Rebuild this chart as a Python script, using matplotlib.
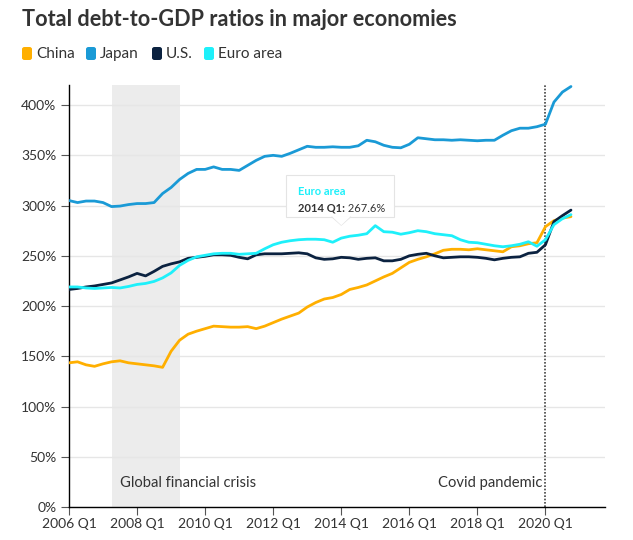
import numpy as np
import matplotlib
matplotlib.use("Agg")
import matplotlib.pyplot as plt
from matplotlib.patches import Rectangle, Polygon, FancyBboxPatch

plt.rcParams['font.family'] = ['Lato', 'DejaVu Sans']

# quarterly data, 2006 Q1 .. 2020 Q4 (percent of GDP)
start_year = 2006
china = [143.5, 144.5, 141.5, 140, 142.5, 144.5, 145.5, 143.5, 142.5, 141.5,
         140.5, 139, 155, 166, 172, 175, 177.5, 180, 179.5, 179,
         179, 179.5, 177.5, 180, 183.5, 187, 190, 193, 199, 203.5,
         207, 208.5, 211.5, 216.5, 218.5, 221, 225, 229, 232.5, 238,
         243.5, 246.5, 249, 252, 255.5, 256.5, 256.5, 256, 257, 256,
         255, 254, 259, 260, 262, 263, 279, 285, 287.5, 289]
japan = [305, 303, 304.5, 304.5, 303, 299, 299.5, 301, 302, 302,
         303, 312, 318, 326, 332, 336, 336, 338.5, 336, 336,
         335, 340, 345, 349, 350, 349, 352, 355.5, 359, 358,
         358, 358.5, 358, 358, 359.5, 365, 363.5, 360, 358, 357.5,
         361, 367.5, 366.5, 365.5, 365.5, 365, 365.5, 365, 364.5, 365,
         365, 370, 374.5, 377, 377, 378.5, 381, 403, 413, 418.5]
us = [216.5, 217.5, 219, 220, 221.5, 223, 226, 229, 232.5, 230,
      234.5, 239.5, 242, 244, 247.5, 248.5, 249.5, 251, 251, 250.5,
      248.5, 247, 251, 252, 252, 252, 252.5, 253, 252, 248,
      246.5, 247, 248.5, 248, 246.5, 247.5, 248, 245, 245, 246.5,
      250, 251.5, 252.5, 250, 248, 248.5, 249, 249, 248.5, 247.5,
      246, 247.5, 248.5, 249, 252.5, 253.5, 261, 284, 290, 295.5]
euro = [219, 219, 218, 217.5, 218, 218.5, 218, 219.5, 221.5, 222.5,
        224.5, 228, 233, 240.5, 245.5, 249, 250.5, 252, 252.5, 252.5,
        251.5, 252, 252.5, 257, 261, 263.5, 265, 266, 266.5, 266.5,
        266, 263.5, 267.6, 269.5, 270.5, 272, 280, 274, 273.5, 271.5,
        273, 275, 274, 272, 271, 270, 266, 263.5, 263, 261.5,
        260, 259, 260, 261.5, 264, 259.5, 266, 281, 287, 291]

names = ["China", "Japan", "U.S.", "Euro area"]
colors = ["#ffaf00", "#1a9ad6", "#0b2240", "#1ef0fa"]
series = [china, japan, us, euro]

x = start_year + np.arange(len(china)) / 4
tick_years = list(range(2006, 2021, 2))
tick_labels = [f"{y} Q1" for y in tick_years]
ytick_vals = list(range(0, 401, 50))

fig = plt.figure(figsize=(6.33, 5.40), dpi=100)
ax = fig.add_axes([69 / 633, 1 - 507 / 540, 536 / 633, 422 / 540])

# shaded crisis period and covid line
ax.axvspan(2007.25, 2009.25, color="#ececec", zorder=0, lw=0)
ax.axvline(2020.0, color="#444444", ls=(0, (1, 1)), lw=1.2, zorder=1)

for s, c in zip(series, colors):
    ax.plot(x, s, color=c, lw=2.0, zorder=3, solid_capstyle="round")

ax.set_xlim(2006, 2021.75)
ax.set_ylim(0, 420)
ax.set_yticks(ytick_vals)
ax.set_yticklabels([f"{v}%" for v in ytick_vals])
ax.set_xticks(tick_years)
ax.set_xticklabels(tick_labels)
ax.grid(axis="y", color="#e6e6e6", lw=1, zorder=0)
ax.set_axisbelow(True)
for side in ["top", "right"]:
    ax.spines[side].set_visible(False)
for side in ["left", "bottom"]:
    ax.spines[side].set_color("black")
    ax.spines[side].set_linewidth(1)
ax.tick_params(axis="y", length=6, color="#555555", labelsize=10, labelcolor="#333333", pad=3)
ax.tick_params(axis="x", length=6, color="#555555", labelsize=10, labelcolor="#333333", pad=2)

ax.text(2007.5, 24, "Global financial crisis", fontsize=10.6, color="#333333",
        va="center", ha="left")
ax.text(2019.9, 24, "Covid pandemic", fontsize=10.6, color="#333333",
        va="center", ha="right")

# tooltip
tip_x, tip_y = 2014.0, 267.6
ax.add_patch(Rectangle((2012.37 + 0.03, 288.6 - 1), 3.17, 41.7, fc="#000000", alpha=0.06,
                       ec="none", zorder=5))
ax.add_patch(Rectangle((2012.37, 288.6), 3.17, 41.7, fc="white", ec="#e4e4e4",
                       lw=0.8, zorder=5))
ax.add_patch(Polygon([[tip_x - 0.27, 289.2], [tip_x + 0.27, 289.2], [tip_x, 280.5]],
                     closed=True, fc="white", ec="none", zorder=6))
ax.plot([tip_x - 0.27, tip_x, tip_x + 0.27], [288.6, 280.5, 288.6], color="#e4e4e4",
        lw=0.8, zorder=5)
ax.text(2012.72, 314.4, "Euro area", fontsize=8, fontweight="bold", color="#1ef0fa",
        va="center", zorder=7)
t = ax.text(2012.72, 297.5, "2014 Q1:", fontsize=8, fontweight="bold", color="#333333",
            va="center", zorder=7)
ax.annotate(f" {tip_y}%", xycoords=t, xy=(1, 0.5), va="center", fontsize=8,
            color="#333333", zorder=7)

fig.text(22 / 633, 1 - 19 / 540, "Total debt-to-GDP ratios in major economies",
         fontsize=15.6, fontweight="bold", color="#333333", va="center", ha="left")

# legend
leg_x = [22, 86, 152, 204]
for lx, name, c in zip(leg_x, names, colors):
    fig.patches.append(FancyBboxPatch((lx / 633, 1 - 60 / 540), 10 / 633, 13 / 540,
                                      boxstyle="round,pad=0,rounding_size=0.004",
                                      transform=fig.transFigure, fc=c, ec="none"))
    fig.text((lx + 14) / 633, 1 - 54 / 540, name, fontsize=11, color="#333333",
             va="center", ha="left")

fig.savefig("out.png", dpi=100, facecolor="white")
